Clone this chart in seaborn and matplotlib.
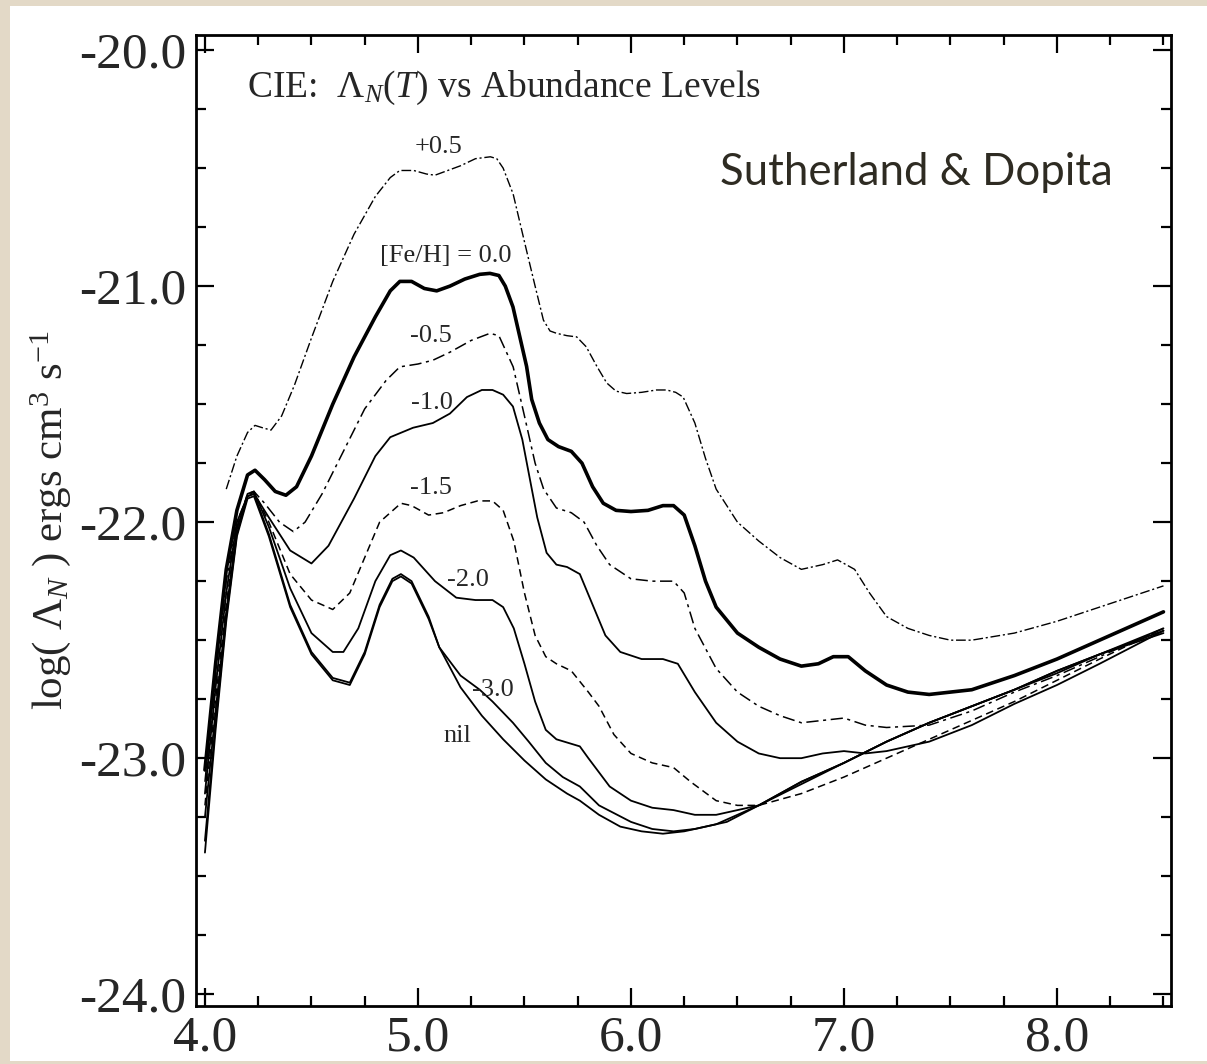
import numpy as np
import pandas as pd
import matplotlib
matplotlib.use("Agg")
import matplotlib.pyplot as plt
from matplotlib.patches import Rectangle
from matplotlib.ticker import MultipleLocator, FixedLocator, FixedFormatter
import seaborn as sns

# ---------------- data (log T, log Lambda_N) ----------------
x_p05 = [4.10, 4.15, 4.20, 4.235, 4.27, 4.31, 4.36, 4.42, 4.50, 4.60, 4.70, 4.80, 4.87, 4.915, 4.98, 5.04, 5.08, 5.14, 5.20, 5.27, 5.34, 5.37, 5.40, 5.447, 5.51, 5.55, 5.589, 5.62, 5.651, 5.70, 5.745, 5.79, 5.84, 5.886, 5.93, 5.98, 6.05, 6.12, 6.168, 6.21, 6.245, 6.30, 6.35, 6.40, 6.50, 6.60, 6.70, 6.80, 6.90, 6.97, 7.05, 7.12, 7.20, 7.30, 7.40, 7.50, 7.60, 7.80, 8.00, 8.20, 8.50]
y_p05 = [-21.86, -21.72, -21.62, -21.59, -21.60, -21.61, -21.55, -21.42, -21.22, -20.98, -20.78, -20.62, -20.54, -20.51, -20.51, -20.525, -20.53, -20.51, -20.49, -20.46, -20.452, -20.46, -20.50, -20.61, -20.85, -21.00, -21.144, -21.19, -21.20, -21.21, -21.215, -21.257, -21.34, -21.41, -21.445, -21.455, -21.45, -21.44, -21.44, -21.45, -21.47, -21.58, -21.73, -21.86, -22.00, -22.08, -22.15, -22.20, -22.18, -22.16, -22.20, -22.30, -22.40, -22.45, -22.48, -22.50, -22.50, -22.47, -22.42, -22.36, -22.27]

x_00 = [4.00, 4.05, 4.10, 4.15, 4.20, 4.235, 4.28, 4.33, 4.38, 4.43, 4.50, 4.60, 4.70, 4.80, 4.87, 4.915, 4.97, 5.03, 5.088, 5.15, 5.22, 5.29, 5.338, 5.38, 5.41, 5.446, 5.51, 5.534, 5.57, 5.61, 5.66, 5.72, 5.77, 5.82, 5.87, 5.93, 6.00, 6.08, 6.15, 6.20, 6.25, 6.30, 6.35, 6.40, 6.50, 6.60, 6.70, 6.80, 6.88, 6.95, 7.02, 7.10, 7.20, 7.30, 7.40, 7.50, 7.60, 7.70, 7.80, 8.00, 8.20, 8.40, 8.50]
y_00 = [-23.05, -22.60, -22.20, -21.95, -21.80, -21.78, -21.82, -21.87, -21.886, -21.85, -21.72, -21.50, -21.30, -21.13, -21.02, -20.98, -20.98, -21.01, -21.02, -21.00, -20.97, -20.95, -20.946, -20.955, -21.00, -21.088, -21.34, -21.48, -21.58, -21.65, -21.68, -21.70, -21.75, -21.85, -21.92, -21.95, -21.955, -21.95, -21.93, -21.93, -21.97, -22.10, -22.25, -22.36, -22.47, -22.53, -22.58, -22.61, -22.60, -22.57, -22.57, -22.63, -22.69, -22.72, -22.73, -22.72, -22.71, -22.68, -22.65, -22.58, -22.50, -22.42, -22.38]

x_m05 = [4.00, 4.05, 4.10, 4.15, 4.20, 4.23, 4.28, 4.35, 4.415, 4.47, 4.55, 4.65, 4.75, 4.85, 4.915, 5.00, 5.07, 5.15, 5.25, 5.338, 5.38, 5.447, 5.50, 5.55, 5.59, 5.65, 5.72, 5.78, 5.84, 5.90, 6.00, 6.10, 6.20, 6.25, 6.30, 6.40, 6.50, 6.60, 6.70, 6.80, 6.90, 7.00, 7.10, 7.20, 7.40, 7.60, 7.80, 8.00, 8.20, 8.50]
y_m05 = [-23.10, -22.65, -22.25, -22.00, -21.89, -21.87, -21.92, -22.00, -22.04, -22.00, -21.88, -21.70, -21.52, -21.40, -21.342, -21.33, -21.314, -21.28, -21.23, -21.20, -21.21, -21.342, -21.55, -21.75, -21.86, -21.94, -21.96, -22.00, -22.10, -22.18, -22.24, -22.25, -22.25, -22.30, -22.45, -22.62, -22.72, -22.78, -22.82, -22.85, -22.84, -22.83, -22.86, -22.87, -22.86, -22.80, -22.72, -22.65, -22.57, -22.45]

x_m10 = [4.00, 4.05, 4.10, 4.15, 4.20, 4.23, 4.30, 4.40, 4.50, 4.58, 4.70, 4.80, 4.87, 4.977, 5.07, 5.15, 5.23, 5.30, 5.35, 5.40, 5.446, 5.49, 5.526, 5.56, 5.604, 5.65, 5.70, 5.76, 5.82, 5.88, 5.95, 6.05, 6.15, 6.22, 6.30, 6.40, 6.50, 6.60, 6.70, 6.80, 6.90, 7.00, 7.10, 7.20, 7.40, 7.60, 7.80, 8.00, 8.20, 8.50]
y_m10 = [-23.15, -22.70, -22.30, -22.00, -21.89, -21.88, -21.98, -22.12, -22.175, -22.10, -21.90, -21.72, -21.64, -21.60, -21.58, -21.54, -21.47, -21.44, -21.44, -21.46, -21.51, -21.65, -21.82, -21.98, -22.13, -22.18, -22.19, -22.22, -22.35, -22.48, -22.55, -22.58, -22.58, -22.60, -22.72, -22.85, -22.93, -22.98, -23.00, -23.00, -22.98, -22.97, -22.98, -22.97, -22.93, -22.86, -22.77, -22.69, -22.60, -22.46]

x_m15 = [4.00, 4.05, 4.10, 4.15, 4.20, 4.23, 4.30, 4.40, 4.50, 4.60, 4.68, 4.75, 4.82, 4.92, 4.97, 5.05, 5.12, 5.20, 5.28, 5.35, 5.40, 5.45, 5.50, 5.55, 5.60, 5.65, 5.72, 5.80, 5.85, 5.92, 6.00, 6.10, 6.20, 6.28, 6.40, 6.50, 6.60, 6.80, 7.00, 7.20, 7.40, 7.60, 7.80, 8.00, 8.20, 8.50]
y_m15 = [-23.20, -22.75, -22.35, -22.02, -21.88, -21.87, -22.00, -22.22, -22.33, -22.37, -22.30, -22.15, -22.00, -21.92, -21.93, -21.97, -21.96, -21.93, -21.91, -21.91, -21.95, -22.08, -22.30, -22.48, -22.57, -22.60, -22.63, -22.72, -22.78, -22.90, -22.98, -23.02, -23.04, -23.10, -23.18, -23.20, -23.20, -23.15, -23.08, -23.00, -22.92, -22.84, -22.76, -22.67, -22.58, -22.45]

x_m20 = [4.00, 4.05, 4.10, 4.15, 4.20, 4.23, 4.30, 4.40, 4.50, 4.60, 4.65, 4.72, 4.80, 4.87, 4.92, 4.98, 5.08, 5.18, 5.27, 5.35, 5.40, 5.45, 5.50, 5.55, 5.60, 5.65, 5.76, 5.80, 5.90, 6.00, 6.10, 6.20, 6.30, 6.40, 6.60, 6.80, 7.00, 7.20, 7.40, 7.60, 7.80, 8.00, 8.20, 8.50]
y_m20 = [-23.25, -22.80, -22.38, -22.03, -21.88, -21.87, -22.02, -22.28, -22.47, -22.55, -22.55, -22.45, -22.25, -22.14, -22.12, -22.15, -22.25, -22.32, -22.33, -22.33, -22.36, -22.45, -22.60, -22.76, -22.88, -22.92, -22.95, -23.00, -23.12, -23.18, -23.21, -23.22, -23.24, -23.24, -23.20, -23.11, -23.02, -22.93, -22.85, -22.78, -22.71, -22.63, -22.56, -22.45]

x_m30 = [4.00, 4.05, 4.10, 4.15, 4.20, 4.23, 4.30, 4.40, 4.50, 4.60, 4.68, 4.75, 4.82, 4.88, 4.92, 4.97, 5.05, 5.10, 5.20, 5.29, 5.35, 5.446, 5.52, 5.60, 5.68, 5.76, 5.85, 6.00, 6.10, 6.20, 6.30, 6.40, 6.60, 6.80, 7.00, 7.20, 7.40, 7.60, 7.80, 8.00, 8.20, 8.50]
y_m30 = [-23.35, -22.85, -22.40, -22.05, -21.89, -21.88, -22.05, -22.35, -22.55, -22.66, -22.68, -22.55, -22.35, -22.24, -22.22, -22.25, -22.40, -22.53, -22.65, -22.71, -22.76, -22.85, -22.93, -23.02, -23.08, -23.12, -23.20, -23.27, -23.30, -23.31, -23.30, -23.28, -23.20, -23.10, -23.02, -22.93, -22.85, -22.78, -22.71, -22.63, -22.56, -22.46]

x_nil = [4.00, 4.05, 4.10, 4.15, 4.20, 4.23, 4.30, 4.40, 4.50, 4.60, 4.68, 4.75, 4.82, 4.88, 4.92, 4.97, 5.05, 5.10, 5.20, 5.30, 5.40, 5.50, 5.60, 5.70, 5.76, 5.85, 5.95, 6.05, 6.15, 6.25, 6.35, 6.45, 6.60, 6.80, 7.00, 7.20, 7.40, 7.60, 7.80, 8.00, 8.20, 8.50]
y_nil = [-23.40, -22.88, -22.42, -22.06, -21.90, -21.89, -22.06, -22.36, -22.56, -22.67, -22.69, -22.56, -22.36, -22.25, -22.23, -22.26, -22.41, -22.53, -22.70, -22.82, -22.92, -23.01, -23.09, -23.15, -23.18, -23.24, -23.29, -23.31, -23.32, -23.31, -23.29, -23.27, -23.20, -23.10, -23.02, -22.93, -22.85, -22.78, -22.71, -22.64, -22.56, -22.47]

series_names = ["+0.5", "0.0", "-0.5", "-1.0", "-1.5", "-2.0", "-3.0", "nil"]
series_x = [x_p05, x_00, x_m05, x_m10, x_m15, x_m20, x_m30, x_nil]
series_y = [y_p05, y_00, y_m05, y_m10, y_m15, y_m20, y_m30, y_nil]

label_text = ["+0.5", "[Fe/H] = 0.0", "-0.5", "-1.0", "-1.5", "-2.0", "-3.0", "nil"]
label_x = [5.096, 5.131, 5.06, 5.064, 5.063, 5.236, 5.35, 5.185]
label_y = [-20.41, -20.873, -21.21, -21.494, -21.856, -22.246, -22.71, -22.905]

x_ticks = [4.0, 5.0, 6.0, 7.0, 8.0]
y_ticks = [-20.0, -21.0, -22.0, -23.0, -24.0]

# ---------------- styling ----------------
styles = {
    "+0.5": dict(lw=1.0, dashes=(7, 2, 1.5, 2)),
    "0.0": dict(lw=2.6, dashes=None),
    "-0.5": dict(lw=1.1, dashes=(8, 3, 2, 3)),
    "-1.0": dict(lw=1.3, dashes=None),
    "-1.5": dict(lw=1.1, dashes=(5, 3)),
    "-2.0": dict(lw=1.3, dashes=None),
    "-3.0": dict(lw=1.3, dashes=None),
    "nil": dict(lw=1.3, dashes=None),
}

sns.set_style("ticks")
serif = ["Liberation Serif", "DejaVu Serif"]
plt.rcParams["font.family"] = serif
plt.rcParams["axes.unicode_minus"] = False
plt.rcParams["mathtext.fontset"] = "custom"
plt.rcParams["mathtext.rm"] = "Liberation Serif"
plt.rcParams["mathtext.it"] = "Liberation Serif:italic"

BEIGE = "#e3d9c7"
fig = plt.figure(figsize=(12.07, 10.64), dpi=100, facecolor=BEIGE)
fig.patches.append(Rectangle((10 / 1207, 3 / 1064), 1.0, 1055 / 1064,
                             transform=fig.transFigure, facecolor="white",
                             edgecolor="none", zorder=-10))
ax = fig.add_axes([196 / 1207, 58 / 1064, (1170.5 - 196) / 1207, (1006 - 35) / 1064])
ax.set_zorder(5)
ax.set_facecolor("white")

rows = []
for name, xs, ys in zip(series_names, series_x, series_y):
    for xv, yv in zip(xs, ys):
        rows.append((name, xv, yv))
df = pd.DataFrame(rows, columns=["series", "logT", "logL"])

for name in series_names:
    sub = df[df["series"] == name]
    n_before = len(ax.lines)
    sns.lineplot(data=sub, x="logT", y="logL", ax=ax, color="black",
                 sort=False, estimator=None, linewidth=styles[name]["lw"])
    line = ax.lines[n_before]
    if styles[name]["dashes"] is not None:
        line.set_dashes(styles[name]["dashes"])
    line.set_solid_capstyle("round")

ax.set_xlim(3.958, 8.533)
ax.set_ylim(-24.05, -19.936)

ax.xaxis.set_major_locator(FixedLocator(x_ticks))
ax.xaxis.set_major_formatter(FixedFormatter([f"{v:.1f}" for v in x_ticks]))
ax.xaxis.set_minor_locator(MultipleLocator(0.25))
ax.yaxis.set_major_locator(FixedLocator(y_ticks))
ax.yaxis.set_major_formatter(FixedFormatter([f"{v:.1f}" for v in y_ticks]))
ax.yaxis.set_minor_locator(MultipleLocator(0.25))

ax.tick_params(which="both", direction="in", top=True, right=True, color="black", width=1.6)
ax.tick_params(which="major", length=13, labelsize=37)
ax.tick_params(which="minor", length=7)
ax.tick_params(axis="x", which="major", pad=6.5)
ax.tick_params(axis="y", which="major", pad=7)
for sp in ax.spines.values():
    sp.set_linewidth(2.0)
    sp.set_color("black")
    sp.set_visible(True)

ax.set_xlabel("")
ax.set_ylabel(r"log( $\Lambda_{\mathit{N}}$ ) ergs cm$^{3}$ s$^{-1}$", fontsize=31, labelpad=4)

ax.text(4.197, -20.2, r"CIE:  $\Lambda_{\mathit{N}}(\mathit{T})$ vs Abundance Levels",
        fontsize=27, ha="left", va="baseline")

for t, lx, ly in zip(label_text, label_x, label_y):
    ax.text(lx, ly, t, fontsize=19, ha="center", va="center")

ax.text(8.263, -20.517, "Sutherland & Dopita", fontsize=31.5, ha="right", va="center",
        color="#2e2b22", family=["Lato", "DejaVu Sans"])

fig.savefig("out.png", dpi=100, facecolor=BEIGE)
